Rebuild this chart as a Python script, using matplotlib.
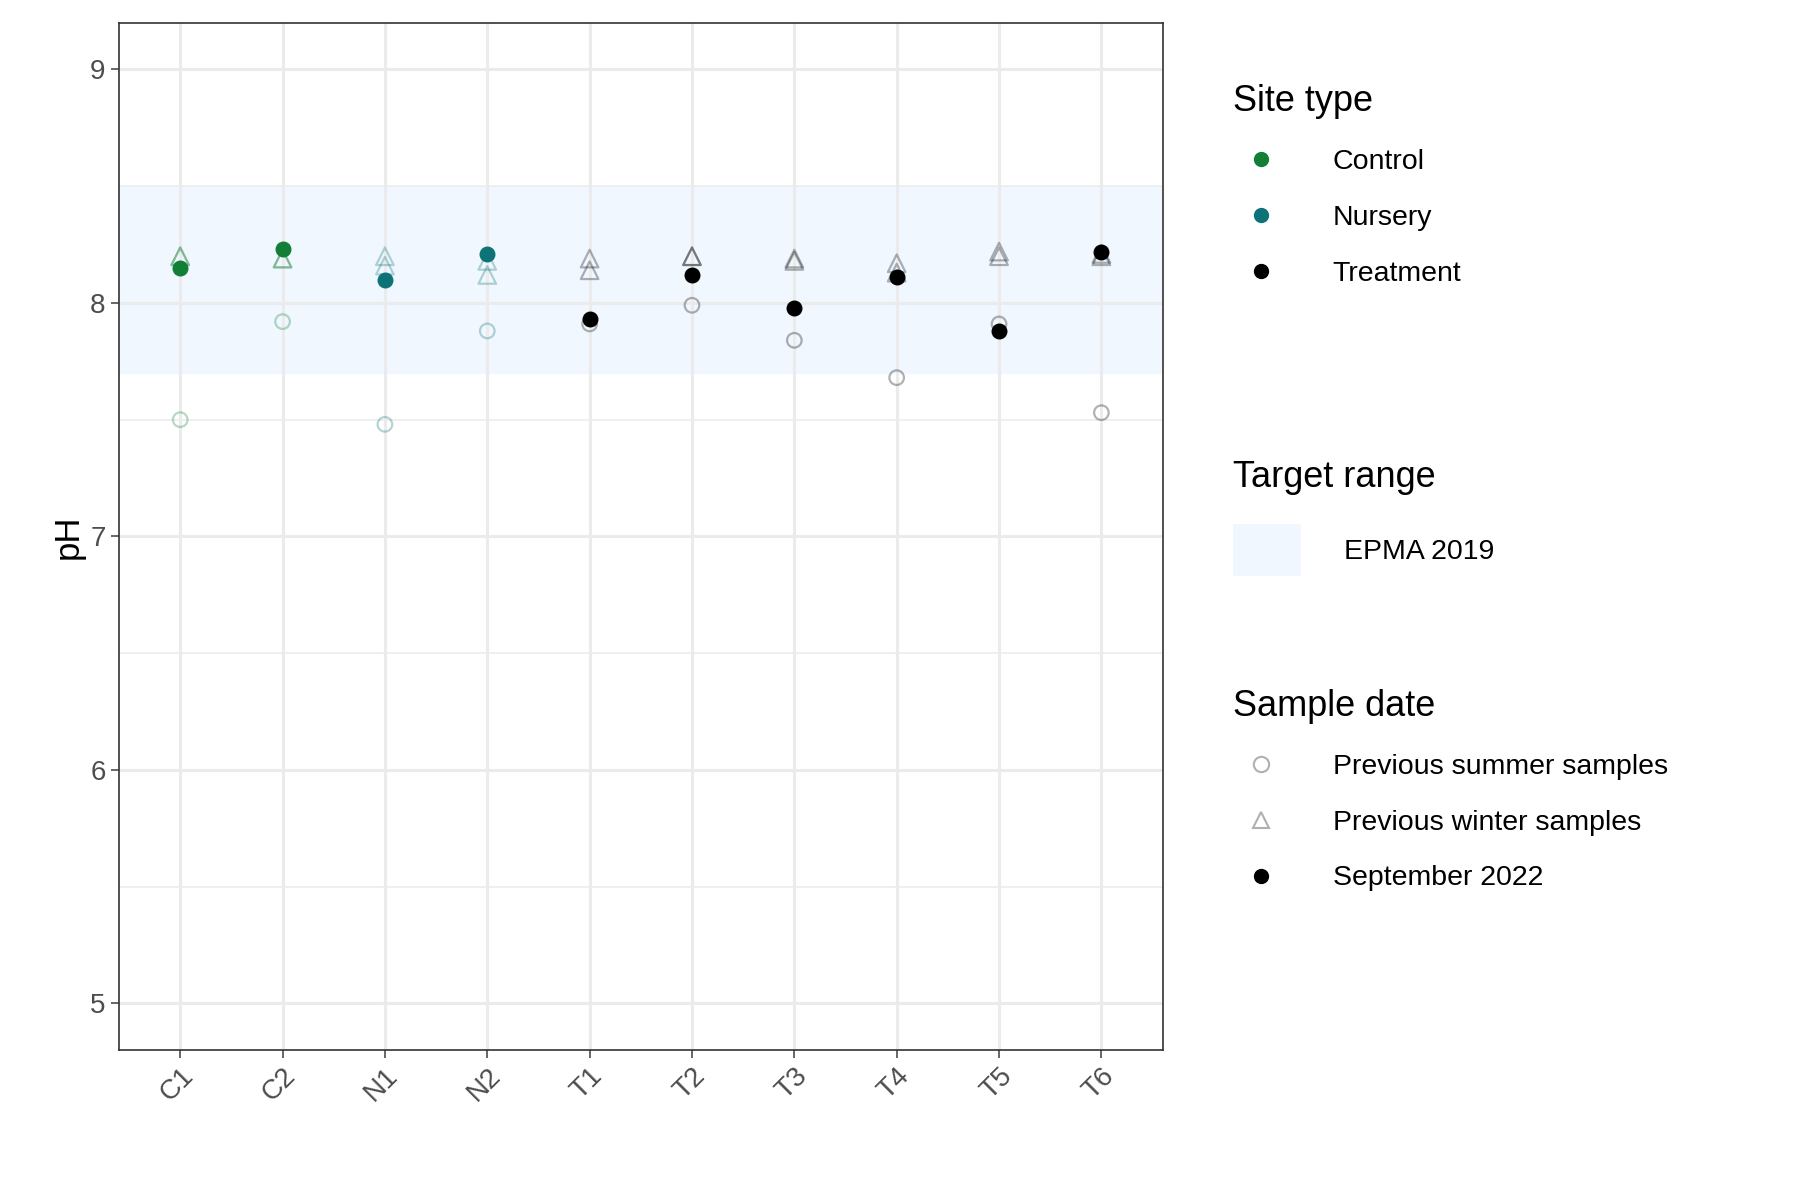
import numpy as np
import matplotlib
matplotlib.use('Agg')
import matplotlib.pyplot as plt
from matplotlib.lines import Line2D
from matplotlib.patches import Patch

plt.rcParams['font.family'] = ['Liberation Sans', 'DejaVu Sans']

sites = ['C1', 'C2', 'N1', 'N2', 'T1', 'T2', 'T3', 'T4', 'T5', 'T6']
site_type = ['Control', 'Control', 'Nursery', 'Nursery', 'Treatment', 'Treatment',
             'Treatment', 'Treatment', 'Treatment', 'Treatment']
summer = [7.50, 7.92, 7.48, 7.88, 7.91, 7.99, 7.84, 7.68, 7.91, 7.53]
winter_a = [8.20, 8.19, 8.20, 8.18, 8.19, 8.20, 8.19, 8.17, 8.22, 8.21]
winter_b = [8.20, 8.19, 8.16, 8.12, 8.14, 8.20, 8.18, 8.13, 8.20, 8.20]
sept2022 = [8.15, 8.23, 8.10, 8.21, 7.93, 8.12, 7.98, 8.11, 7.88, 8.22]
target_lo, target_hi = 7.7, 8.5

colors = {'Control': '#137f36', 'Nursery': '#0e7377', 'Treatment': '#000000'}

fig = plt.figure(figsize=(18, 12), dpi=100)
ax = fig.add_axes([0.066, 0.125, 0.58, 0.856])

ax.axhspan(target_lo, target_hi, color='#f0f7ff', zorder=0)

x = np.arange(len(sites))
for i in x:
    c = colors[site_type[i]]
    ax.scatter(i, summer[i], s=110, marker='o', facecolors='none', edgecolors=c,
               linewidths=1.6, alpha=0.3, zorder=3)
    for w in (winter_a[i], winter_b[i]):
        ax.scatter(i, w, s=160, marker='^', facecolors='none', edgecolors=c,
                   linewidths=1.6, alpha=0.3, zorder=3)
    ax.scatter(i, sept2022[i], s=110, marker='o', color=c, zorder=4)

ax.set_xlim(-0.6, len(sites) - 0.4)
ax.set_ylim(4.8, 9.2)
ax.set_xticks(x)
ax.set_xticklabels(sites, rotation=45, ha='right', rotation_mode='anchor')
ax.set_yticks([5, 6, 7, 8, 9])
ax.set_yticks([5.5, 6.5, 7.5, 8.5], minor=True)
ax.grid(True, which='major', color='#ebebeb', linewidth=2.2, zorder=1)
ax.grid(True, which='minor', axis='y', color='#ebebeb', linewidth=1.1, zorder=1)
ax.set_axisbelow(True)
ax.tick_params(axis='both', labelsize=20, colors='#4d4d4d', length=6, width=1.2)
ax.tick_params(axis='both', which='minor', length=0)
for s in ax.spines.values():
    s.set_color('#333333')
    s.set_linewidth(1.2)
ax.set_ylabel('pH', fontsize=25)

leg_kw = dict(frameon=False, fontsize=20.5, title_fontsize=26, alignment='left',
              handletextpad=1.5, labelspacing=1.05, borderaxespad=0, borderpad=0)
h1 = [Line2D([], [], marker='o', ls='', color=colors[k], ms=10) for k in colors]
l1 = fig.legend(h1, list(colors), title='Site type', loc='upper left',
                bbox_to_anchor=(0.685, 0.93), **leg_kw)
h2 = [Patch(facecolor='#f0f7ff', edgecolor='none')]
l2 = fig.legend(h2, ['EPMA 2019'], title='Target range', loc='upper left',
                bbox_to_anchor=(0.685, 0.617), handlelength=2.4, handleheight=2.4, **leg_kw)
h3 = [Line2D([], [], marker='o', ls='', mfc='none', mec='#b0b0b0', ms=11, mew=1.5),
      Line2D([], [], marker='^', ls='', mfc='none', mec='#b0b0b0', ms=12, mew=1.5),
      Line2D([], [], marker='o', ls='', color='black', ms=10)]
l3 = fig.legend(h3, ['Previous summer samples', 'Previous winter samples', 'September 2022'],
                title='Sample date', loc='upper left', bbox_to_anchor=(0.685, 0.426), **leg_kw)

fig.savefig('out.png', dpi=100)
